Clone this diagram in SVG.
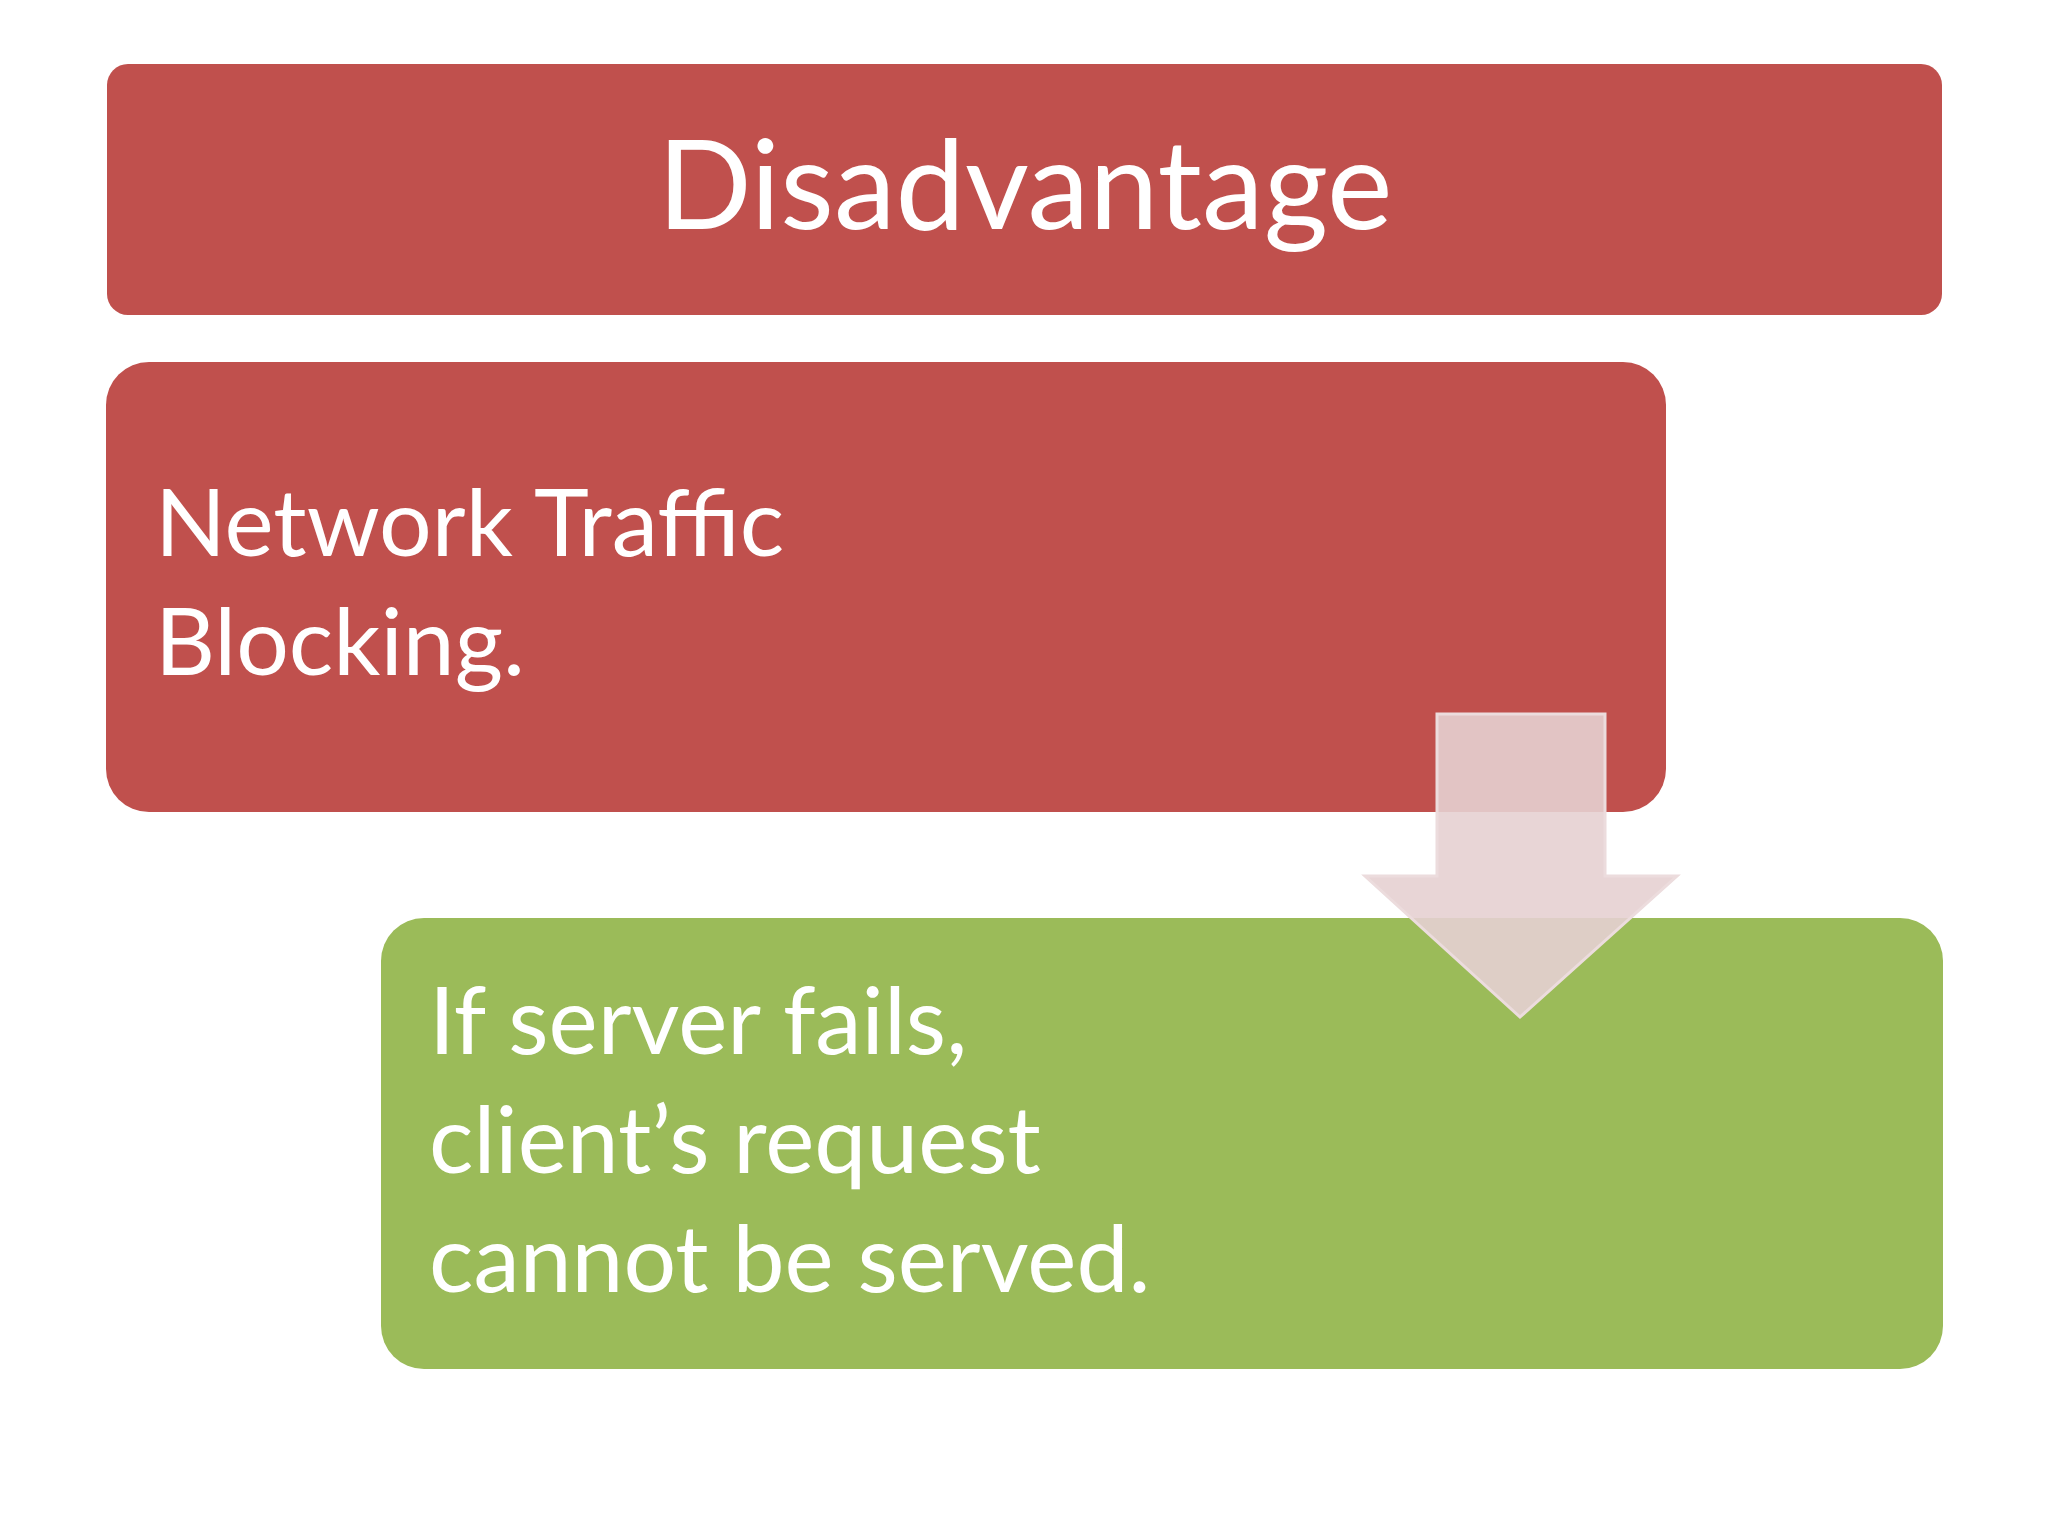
<svg xmlns="http://www.w3.org/2000/svg" width="2048" height="1536" viewBox="0 0 2048 1536">
<style>
.t{font-family:Lato,"Open Sans","Liberation Sans",sans-serif;fill:#fff}
.red{fill:#c0504d}
</style>
<rect width="2048" height="1536" fill="#fff"/>
<g id="title"><rect class="red" x="107" y="64" width="1835" height="251" rx="21"/>
<text class="t" x="1025" y="229" font-size="124" text-anchor="middle">Disadvantage</text></g>
<g id="n1"><rect class="red" x="106" y="362" width="1560" height="450" rx="43"/>
<text class="t" x="155" font-size="93"><tspan x="155" y="556">Network Traffic</tspan><tspan x="155" y="675">Blocking.</tspan></text></g>
<g id="n2"><rect x="381" y="918" width="1562" height="451" rx="43" fill="#9bbb59"/>
<text class="t" x="429" font-size="93"><tspan x="429" y="1054">If server fails,</tspan><tspan x="429" y="1173">client’s request</tspan><tspan x="429" y="1292">cannot be served.</tspan></text></g>
<g id="connectors"><path d="M1437 714H1605V876H1677L1520 1017L1365 876H1437Z" fill="#e5d0d2" fill-opacity="0.9" stroke="#ecdcdd" stroke-width="3"/></g>
</svg>
